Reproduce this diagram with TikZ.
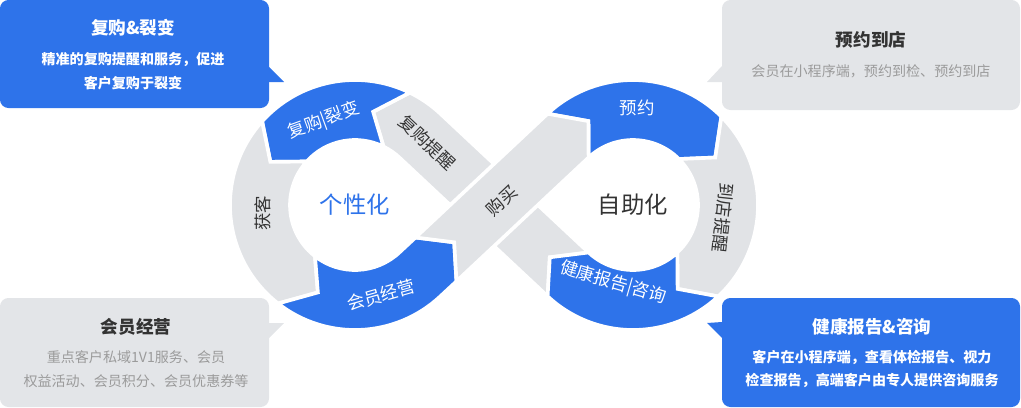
\documentclass[tikz,border=0pt]{standalone}
\usepackage{fontspec}
\setmainfont{Noto Sans CJK SC}
\usepackage{tikz}

\definecolor{infblue}{HTML}{2E73EA}
\definecolor{infgray}{HTML}{E1E3E6}
\definecolor{boxgray}{HTML}{E3E5E8}
\definecolor{txtdark}{HTML}{333333}
\definecolor{txtgray}{HTML}{9B9B9B}

\begin{document}
\begin{tikzpicture}[x=0.025cm,y=0.025cm,
    seg/.style={draw=white,line width=2.6pt},
    bluseg/.style={seg,fill=infblue},
    grayseg/.style={seg,fill=infgray},
    ringlab/.style={inner sep=0,font=\fontsize{12.4}{15}\selectfont},
    midlab/.style={inner sep=0,font=\fontsize{16.6}{19}\selectfont},
    boxtitle/.style={inner sep=0,font=\bfseries\fontsize{12.5}{15}\selectfont},
    boxtext/.style={inner sep=0,font=\fontsize{10}{12}\selectfont}]
  \useasboundingbox (0,0) rectangle (1021,-408);

  % left loop
  \begin{scope}[shift={(355,-205)}]
    \coordinate (o1) at (64:125);  \coordinate (i1) at (64:65);  \coordinate (m1) at (79:95);
    \coordinate (o2) at (138:125); \coordinate (i2) at (138:65); \coordinate (m2) at (153:95);
    \coordinate (o3) at (232:125); \coordinate (i3) at (232:65); \coordinate (m3) at (247:95);
    \coordinate (t1o) at (46.9:125); \coordinate (t1i) at (46.9:65);
    \coordinate (t2i) at (313.1:65);
  \end{scope}
  % right loop
  \begin{scope}[shift={(633,-205)}]
    \coordinate (t3o) at (133.1:125); \coordinate (t3i) at (133.1:65); \coordinate (m5) at (118:95);
    \coordinate (o6) at (45:125);  \coordinate (i6) at (45:65);  \coordinate (m6) at (30:95);
    \coordinate (o7) at (-47:125); \coordinate (i7) at (-47:65); \coordinate (m7) at (-62:95);
    \coordinate (t4o) at (226.9:125); \coordinate (t4i) at (226.9:65);
  \end{scope}
  \coordinate (o4) at (456.5,-281.3);
  \coordinate (i4) at (415.5,-237.5);
  \coordinate (m4) at (454.2,-242.3);
  \coordinate (m8) at (549.8,-257.3);

  % band under the crossing
  \path[grayseg] (t4o) -- (t1i) arc[start angle=46.9,end angle=64,radius=65] -- (m1) -- (o1)
    arc[start angle=64,end angle=46.9,radius=125] -- (t4i) -- (m8) -- cycle;
  \path[bluseg] (o1) arc[start angle=64,end angle=138,radius=125] -- (m2) -- (i2)
    arc[start angle=138,end angle=64,radius=65] -- (m1) -- cycle;
  \path[grayseg] (o2) arc[start angle=138,end angle=232,radius=125] -- (m3) -- (i3)
    arc[start angle=232,end angle=138,radius=65] -- (m2) -- cycle;
  \path[bluseg] (o3) arc[start angle=232,end angle=313.1,radius=125] -- (o4) -- (m4) -- (i4)
    -- (t2i) arc[start angle=313.1,end angle=232,radius=65] -- (m3) -- cycle;
  \path[bluseg] (t3o) arc[start angle=133.1,end angle=45,radius=125] -- (m6) -- (i6)
    arc[start angle=45,end angle=133.1,radius=65] -- (m5) -- cycle;
  \path[grayseg] (o6) arc[start angle=45,end angle=-47,radius=125] -- (m7) -- (i7)
    arc[start angle=-47,end angle=45,radius=65] -- (m6) -- cycle;
  \path[bluseg] (o7) arc[start angle=-47,end angle=-133.1,radius=125] -- (m8) -- (t4i)
    arc[start angle=-133.1,end angle=-47,radius=65] -- (m7) -- cycle;
  % band on top
  \path[grayseg] (o4) -- (t3i) -- (m5) -- (t3o) -- (i4) -- (m4) -- cycle;

  % ring labels
  \node[ringlab,text=white,rotate=20] (fugou) at (324,-121) {复购|裂变};
  \node[ringlab,text=txtdark,rotate=90] (huoke) at (263,-213) {获客};
  \node[ringlab,text=white,rotate=16] (huiyuan) at (381,-295) {会员经营};
  \node[ringlab,text=txtdark,rotate=-43.1] (tixing) at (427.5,-142.5) {复购提醒};
  \node[ringlab,text=txtdark,rotate=43.1] (goumai) at (502,-201) {购买};
  \node[ringlab,text=white] (yuyue) at (637,-108) {预约};
  \node[ringlab,text=txtdark,rotate=-96] (daodian) at (723,-218) {到店提醒};
  \node[ringlab,text=white,rotate=-16] (jiankang) at (613,-283) {健康报告|咨询};
  \node[midlab,text=infblue] (gexing) at (355,-205) {个性化};
  \node[midlab,text=txtdark] (zizhu) at (633,-205) {自助化};

  % callouts
  \fill[infblue,rounded corners=6] (0,0) rectangle (269,-108);
  \fill[infblue] (268,-66) -- (284,-82) -- (268,-82) -- cycle;
  \node[boxtitle,text=white] (tfugou) at (133,-28) {复购\&裂变};
  \node[boxtext,text=white,font=\bfseries\fontsize{10}{12}\selectfont] (dfugoua) at (133,-60) {精准的复购提醒和服务，促进};
  \node[boxtext,text=white,font=\bfseries\fontsize{10}{12}\selectfont] (dfugoub) at (133,-83) {客户复购于裂变};

  \fill[boxgray,rounded corners=6] (0,-298) rectangle (269,-407);
  \fill[boxgray] (268,-323) -- (284,-323) -- (268,-339) -- cycle;
  \node[boxtitle,text=txtdark] (thuiyuan) at (136,-327) {会员经营};
  \node[boxtext,text=txtgray] (dhuiyuana) at (136,-357) {重点客户私域1V1服务、会员};
  \node[boxtext,text=txtgray] (dhuiyuanb) at (136,-381) {权益活动、会员积分、会员优惠券等};

  \fill[boxgray,rounded corners=6] (722,0) rectangle (1020,-110);
  \fill[boxgray] (722,-66) -- (707,-82) -- (722,-82) -- cycle;
  \node[boxtitle,text=txtdark] (tyuyue) at (871,-40) {预约到店};
  \node[boxtext,text=txtgray] (dyuyue) at (871,-71) {会员在小程序端，预约到检、预约到店};

  \fill[infblue,rounded corners=6] (722,-298) rectangle (1020,-407);
  \fill[infblue] (722,-322) -- (707,-323) -- (722,-338) -- cycle;
  \node[boxtitle,text=white] (tjiankang) at (872,-327) {健康报告\&咨询};
  \node[boxtext,text=white,font=\bfseries\fontsize{10}{12}\selectfont] (djiankanga) at (872,-357) {客户在小程序端，查看体检报告、视力};
  \node[boxtext,text=white,font=\bfseries\fontsize{10}{12}\selectfont] (djiankangb) at (872,-380) {检查报告，高端客户由专人提供咨询服务};
\end{tikzpicture}
\end{document}
